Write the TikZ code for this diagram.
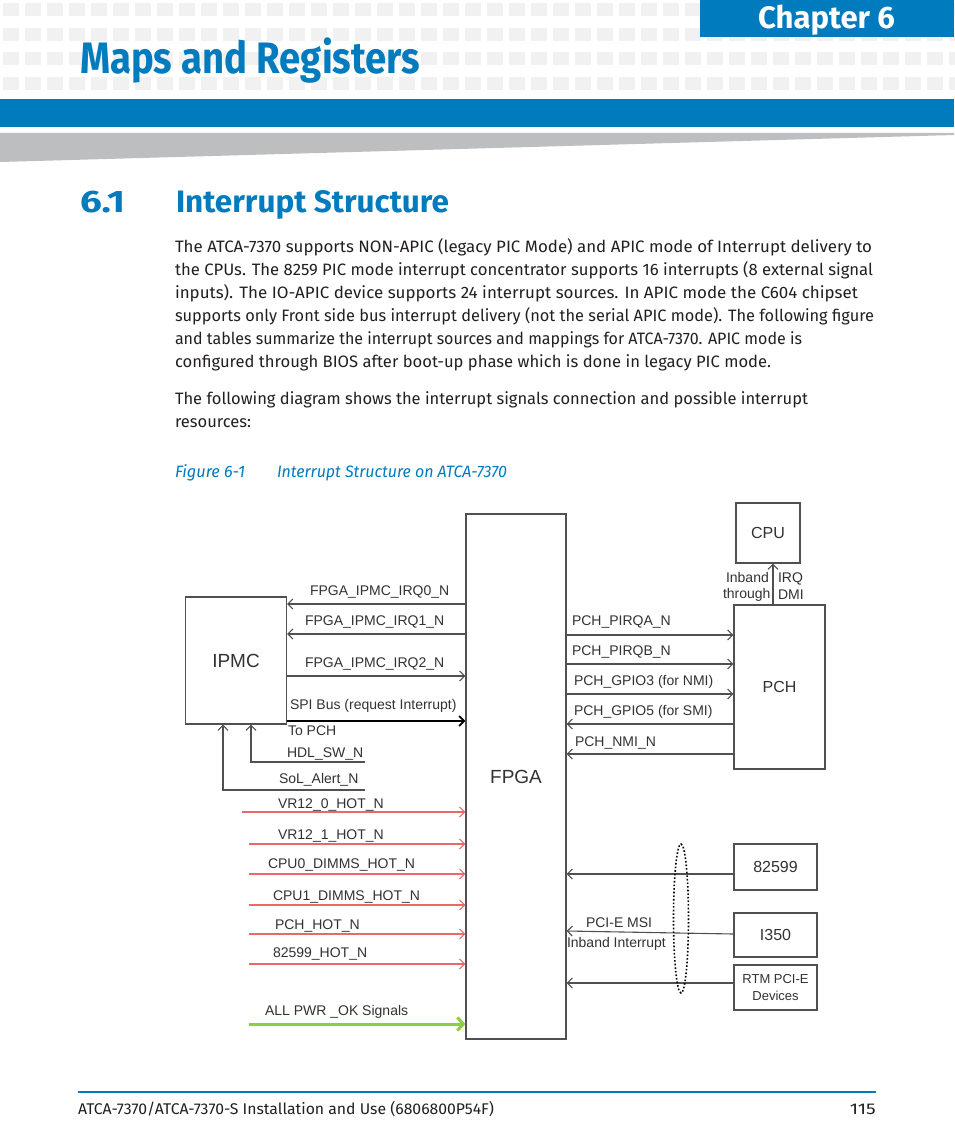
\documentclass[tikz,border=0pt]{standalone}
\usepackage{fontspec}
\setmainfont{Fira Sans}
\newfontfamily\diagfont{Liberation Sans}
\usetikzlibrary{arrows.meta}
\definecolor{ablue}{RGB}{0,123,190}
\definecolor{sqgray}{RGB}{241,241,241}
\definecolor{wedgegray}{RGB}{189,190,192}
\definecolor{lgray}{RGB}{80,80,80}
\definecolor{txtgray}{RGB}{50,50,50}
\definecolor{hotred}{RGB}{232,105,105}
\definecolor{okgreen}{RGB}{140,205,65}
\definecolor{bodytext}{RGB}{35,31,32}
\newcommand\fitw[2]{\resizebox{#1}{\height}{#2}}
\tikzset{
  txt/.style={inner sep=0pt, outer sep=0pt, anchor=base west},
  bodyline/.style={txt, text=bodytext, font=\fontsize{16.5}{20}\selectfont},
  lbl/.style={txt, text=txtgray, font=\diagfont\fontsize{14}{16}\selectfont},
  blk/.style={draw=lgray, line width=1.2pt, fill=white, inner sep=0pt, text=txtgray, font=\diagfont\fontsize{16}{18}\selectfont},
  sig/.style={draw=lgray, line width=1.1pt, -{Straight Barb[length=5pt,width=10pt]}},
}
\begin{document}
\begin{tikzpicture}[x=1pt,y=-1pt]
\useasboundingbox (0,0) rectangle (954,1145);
\fill[white] (0,0) rectangle (954,1145);
% header pattern
\foreach \r in {3,28,52,77}{
  \foreach \i in {0,...,43}{
    \fill[sqgray] (3+\i*22,\r) rectangle ++(16,13);
  }
}
\fill[ablue] (700,0) rectangle (954,37);
\node[txt, text=white] (chap) at (758,29) {\fitw{137pt}{\fontsize{31}{31}\selectfont\bfseries Chapter 6}};
\node[txt, text=ablue] (maintitle) at (80,74) {\fitw{340pt}{\fontsize{44}{44}\selectfont\bfseries Maps and Registers}};
\fill[ablue] (0,99) rectangle (954,127);
\fill[wedgegray] (0,133) -- (954,133) -- (954,135) -- (0,162) -- cycle;
% section title
\node[txt, text=ablue] (secnum) at (80,212) {\fitw{45pt}{\fontsize{31}{31}\selectfont\bfseries 6.1}};
\node[txt, text=ablue] (sectitle) at (176,212) {\fitw{273pt}{\fontsize{31}{31}\selectfont\bfseries Interrupt Structure}};
% body
\node[bodyline] (b1) at (175,252) {\fitw{697pt}{The ATCA-7370 supports NON-APIC (legacy PIC Mode) and APIC mode of Interrupt delivery to}};
\node[bodyline] (b2) at (175,275) {\fitw{698pt}{the CPUs. The 8259 PIC mode interrupt concentrator supports 16 interrupts (8 external signal}};
\node[bodyline] (b3) at (175,298) {\fitw{683pt}{inputs). The IO-APIC device supports 24 interrupt sources. In APIC mode the C604 chipset}};
\node[bodyline] (b4) at (175,321) {\fitw{699pt}{supports only Front side bus interrupt delivery (not the serial APIC mode). The following figure}};
\node[bodyline] (b5) at (175,344) {\fitw{627pt}{and tables summarize the interrupt sources and mappings for ATCA-7370. APIC mode is}};
\node[bodyline] (b6) at (175,367) {\fitw{596pt}{configured through BIOS after boot-up phase which is done in legacy PIC mode.}};
\node[bodyline] (p1) at (175,404) {\fitw{633pt}{The following diagram shows the interrupt signals connection and possible interrupt}};
\node[bodyline] (p2) at (175,427) {\fitw{76pt}{resources:}};
% caption
\node[txt, text=ablue] (capnum) at (175,477) {\fitw{70pt}{\fontsize{16.5}{20}\selectfont\itshape Figure 6-1}};
\node[txt, text=ablue] (captext) at (277,477) {\fitw{230pt}{\fontsize{16.5}{20}\selectfont\itshape Interrupt Structure on ATCA-7370}};
% footer
\draw[ablue, line width=1.6pt] (78,1092) -- (876,1092);
\node[txt, text=bodytext] (foot) at (78,1114) {\fitw{416pt}{\fontsize{15.5}{18}\selectfont ATCA-7370/ATCA-7370-S Installation and Use (6806800P54F)}};
\node[inner sep=0pt, anchor=base east, text=bodytext] (pagenum) at (876,1114) {\fitw{26pt}{\fontsize{15.5}{18}\selectfont 115}};
% ===== diagram blocks =====
\node[blk, minimum width=100pt, minimum height=525pt, font=\diagfont\fontsize{19}{21}\selectfont] (fpga) at (516,776.5) {FPGA};
\node[blk, minimum width=101pt, minimum height=127pt, font=\diagfont\fontsize{19}{21}\selectfont] (ipmc) at (236,660.5) {IPMC};
\node[blk, minimum width=64pt, minimum height=60pt] (cpu) at (768,533) {CPU};
\node[blk, minimum width=91pt, minimum height=164pt] (pch) at (779.5,687) {PCH};
\node[blk, minimum width=83pt, minimum height=46pt] (n82599) at (775.5,867) {82599};
\node[blk, minimum width=83pt, minimum height=44pt] (i350) at (775.5,935) {I350};
\node[blk, minimum width=83pt, minimum height=45pt, align=center, font=\diagfont\fontsize{13}{17}\selectfont] (rtm) at (775.5,987.5) {RTM PCI-E\\Devices};
% IPMC <-> FPGA
\draw[sig] (fpga.west |- 0,604) -- (ipmc.east |- 0,604);
\draw[sig] (fpga.west |- 0,634) -- (ipmc.east |- 0,634);
\draw[sig] (ipmc.east |- 0,676) -- (fpga.west |- 0,676);
\draw[sig, draw=black, line width=1.8pt] (ipmc.east |- 0,721) -- (fpga.west |- 0,721);
\node[lbl] (l_irq0) at (310,595) {FPGA\_IPMC\_IRQ0\_N};
\node[lbl] (l_irq1) at (305,625) {FPGA\_IPMC\_IRQ1\_N};
\node[lbl] (l_irq2) at (305,667) {FPGA\_IPMC\_IRQ2\_N};
\node[lbl] (l_spi) at (290,709) {SPI Bus (request Interrupt)};
\node[lbl] (l_topch) at (288,735) {To PCH};
\coordinate (hdlend) at (365,762);
\coordinate (solend) at (365,790);
\draw[sig] (hdlend) -- (251,762) -- (ipmc.south -| 251,0);
\draw[sig] (solend) -- (223,790) -- (ipmc.south -| 223,0);
\node[lbl] (l_hdl) at (287,757) {HDL\_SW\_N};
\node[lbl] (l_sol) at (279,783) {SoL\_Alert\_N};
% hot signals
\coordinate (r1) at (242,812);
\coordinate (r2) at (249,844);
\coordinate (r3) at (249,874);
\coordinate (r4) at (249,905);
\coordinate (r5) at (249,934);
\coordinate (r6) at (249,964);
\foreach \c in {r1,r2,r3,r4,r5,r6}{
  \draw[sig, draw=hotred] (\c) -- (fpga.west |- \c);
}
\node[lbl] (l_vr0) at (278,808) {VR12\_0\_HOT\_N};
\node[lbl] (l_vr1) at (278,839) {VR12\_1\_HOT\_N};
\node[lbl] (l_cpu0) at (268,868) {CPU0\_DIMMS\_HOT\_N};
\node[lbl] (l_cpu1) at (273,900) {CPU1\_DIMMS\_HOT\_N};
\node[lbl] (l_pchhot) at (275,929) {PCH\_HOT\_N};
\node[lbl] (l_nichot) at (273,957) {82599\_HOT\_N};
\coordinate (g1) at (249,1024);
\draw[draw=okgreen, line width=3pt, -{Straight Barb[length=6pt,width=13pt]}] (g1) -- (fpga.west |- g1);
\node[lbl] (l_pwr) at (265,1015) {ALL PWR \_OK Signals};
% FPGA <-> PCH
\draw[sig] (fpga.east |- 0,635) -- (pch.west |- 0,635);
\draw[sig] (fpga.east |- 0,664) -- (pch.west |- 0,664);
\draw[sig] (fpga.east |- 0,694) -- (pch.west |- 0,694);
\draw[sig] (pch.west |- 0,724) -- (fpga.east |- 0,724);
\draw[sig] (pch.west |- 0,754) -- (fpga.east |- 0,754);
\node[lbl] (l_pa) at (572,625) {PCH\_PIRQA\_N};
\node[lbl] (l_pb) at (572,655) {PCH\_PIRQB\_N};
\node[lbl] (l_g3) at (574,685) {PCH\_GPIO3 (for NMI)};
\node[lbl] (l_g5) at (574,715) {PCH\_GPIO5 (for SMI)};
\node[lbl] (l_nmi) at (575,746) {PCH\_NMI\_N};
% PCH -> CPU
\draw[sig] (pch.north -| 773,0) -- (cpu.south -| 773,0);
\node[lbl] (l_inb) at (726,582) {Inband};
\node[lbl] (l_thr) at (723,598) {through};
\node[lbl] (l_irq) at (778,582) {IRQ};
\node[lbl] (l_dmi) at (778,599) {DMI};
% PCI-E devices
\draw[sig] (n82599.west |- 0,874) -- (fpga.east |- 0,874);
\draw[sig] (i350.west |- 0,934) -- (fpga.east |- 0,931);
\draw[sig] (rtm.west |- 0,983) -- (fpga.east |- 0,983);
\node[lbl] (l_msi) at (586,927) {PCI-E MSI};
\node[lbl] (l_inbi) at (567,947) {Inband Interrupt};
\draw[black, dotted, line width=1.6pt] (681,918.5) ellipse [x radius=7.5, y radius=74.5];
\end{tikzpicture}
\end{document}
